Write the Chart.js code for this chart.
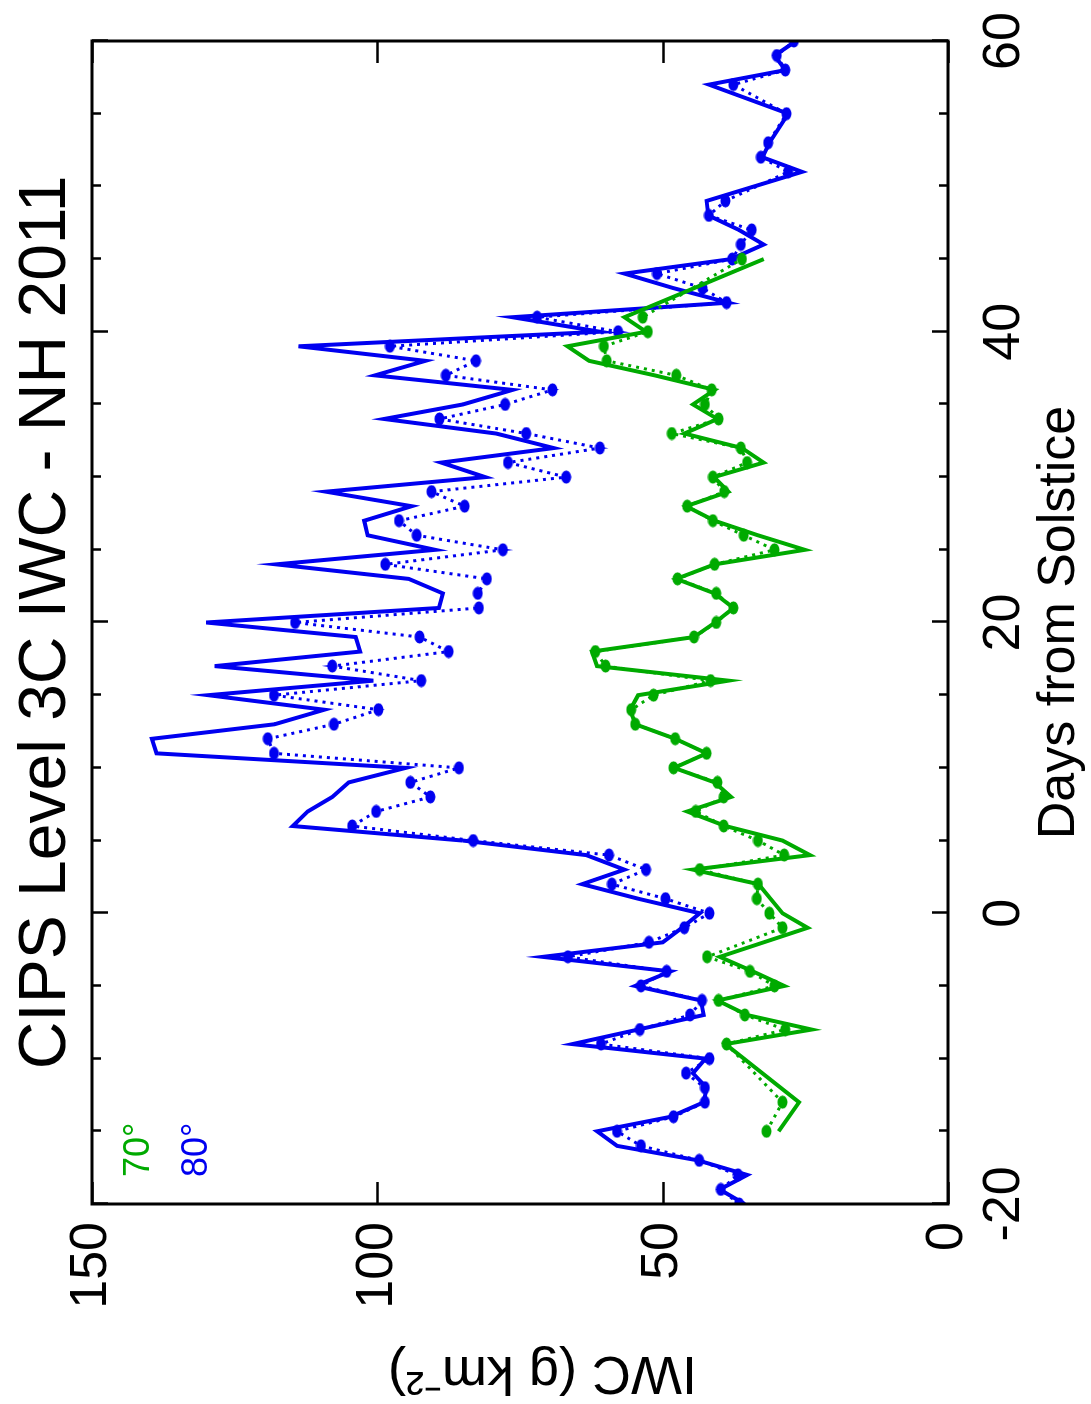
<!DOCTYPE html>
<html>
<head>
<meta charset="utf-8">
<title>CIPS Level 3C IWC - NH 2011</title>
<script src="https://cdn.jsdelivr.net/npm/chart.js@4.4.1/dist/chart.umd.min.js"></script>
<style>
  html, body { margin: 0; padding: 0; background: #fff; overflow: hidden; }
  /* the plot is drawn landscape and turned a quarter turn to the left, like the original page */
  #wrap {
    position: absolute; left: 0; top: 0;
    width: 1404px; height: 1091px;
    transform-origin: 0 0;
    transform: translate(0, 1404px) rotate(-90deg);
  }
</style>
</head>
<body>
<div id="wrap"><canvas id="myChart" width="1404" height="1091"></canvas></div>
<script>
// days from solstice, -20 .. 60
const days = [
  -20, -19, -18, -17, -16, -15, -14, -13, -12, -11,
  -10, -9, -8, -7, -6, -5, -4, -3, -2, -1,
  0, 1, 2, 3, 4, 5, 6, 7, 8, 9,
  10, 11, 12, 13, 14, 15, 16, 17, 18, 19,
  20, 21, 22, 23, 24, 25, 26, 27, 28, 29,
  30, 31, 32, 33, 34, 35, 36, 37, 38, 39,
  40, 41, 42, 43, 44, 45, 46, 47, 48, 49,
  50, 51, 52, 53, 54, 55, 56, 57, 58, 59, 60
];

// 80 deg, solid line
const iwc80Line = [
  35.6, 40.0, 35.2, 43.8, 58.0, 61.5, 48.6, 42.8, 42.3, 44.7,
  42.5, 65.8, 54.3, 42.8, 43.3, 54.8, 48.6, 71.0, 50.0, 46.6,
  43.5, 54.3, 64.1, 56.7, 63.4, 85.0, 114.8, 112.2, 107.9, 105.0,
  95.0, 138.7, 139.5, 118.0, 109.3, 129.6, 100.7, 128.5, 103.0, 103.8,
  130.0, 89.2, 88.5, 94.5, 117.7, 89.9, 101.7, 102.3, 94.0, 109.0,
  81.1, 88.8, 69.1, 79.2, 98.8, 85.0, 76.3, 100.4, 91.6, 113.8,
  61.0, 76.3, 38.5, 48.1, 56.7, 38.0, 32.3, 36.6, 42.0, 42.3,
  null, 25.6, 32.5, 31.3, null, 28.0, null, 41.9, 28.5, 30.4, 26.6
];

// 80 deg, dots on dotted line
const iwc80Dots = [
  36.6, 39.8, 36.8, 43.6, 53.8, 58.0, 48.1, 42.6, 42.6, 45.9,
  41.8, 60.8, 54.0, 45.2, 43.1, 53.8, 49.3, 66.6, 52.4, 46.2,
  41.8, 49.5, 58.9, 52.9, 59.4, 83.2, 104.4, 100.2, 90.7, 94.2,
  85.7, 118.1, 119.2, 107.6, 99.8, 118.1, 92.3, 107.9, 87.5, 92.6,
  114.4, 82.2, 82.4, 80.8, 98.6, 78.0, 93.1, 96.2, 84.7, 90.5,
  66.9, 77.1, 61.0, 73.9, 89.1, 77.6, 69.3, 88.0, 82.7, 97.8,
  57.8, 72.0, 38.8, 43.0, 51.0, 37.8, 36.3, 34.4, 41.9, 39.0,
  null, 28.0, 32.8, 31.5, null, 28.3, null, 37.6, 28.5, 30.0, 27.0
];

// 70 deg, solid line
const iwc70Line = [
  null, null, null, null, null, 29.7, null, 26.1, null, null,
  null, 39.0, 23.9, 35.2, 40.4, 28.7, 34.2, 40.0, null, 24.6,
  29.0, 31.1, 33.2, 44.7, 24.2, 29.0, 39.0, 45.7, 38.0, 40.9,
  48.0, 42.3, 47.8, 54.8, 55.7, 54.3, 38.5, 61.5, 62.4, 44.5,
  40.8, 37.6, 40.9, 47.6, 40.9, 25.1, 33.3, 40.9, 45.9, 38.5,
  41.0, 32.3, 36.1, 46.2, 40.4, 44.7, 40.9, 51.4, 62.9, 66.7,
  52.9, 56.7, null, null, null, 32.3, null, null, null, null,
  null, null, null, null, null, null, null, null, null, null, null
];

// 70 deg, dots on dotted line
const iwc70Dots = [
  null, null, null, null, null, 31.8, null, 29.0, null, null,
  null, 38.8, 28.5, 35.6, 40.2, 30.4, 34.7, 42.2, null, 29.0,
  31.3, 33.5, 33.3, 43.5, 28.7, 33.3, 39.3, 44.2, 39.3, 40.4,
  48.1, 42.3, 47.8, 54.8, 55.5, 51.6, 41.6, 60.0, 61.8, 44.5,
  40.6, 37.6, 40.6, 47.4, 40.9, 30.4, 35.8, 41.2, 45.7, 39.2,
  41.2, 35.2, 36.3, 48.4, 40.2, 42.6, 41.4, 47.6, 59.8, 60.3,
  52.6, 53.5, null, null, null, 36.1, null, null, null, null,
  null, null, null, null, null, null, null, null, null, null, null
];

const seriesNames = ['70\u00b0', '80\u00b0'];
const seriesColors = ['#00aa00', '#0000f0'];

const dayTicks = [-20, 0, 20, 40, 60];
const iwcTicks = [0, 50, 100, 150];
const dayMinorStep = 5;

const FONT = "'Liberation Sans', Arial, Helvetica, sans-serif";

const toPoints = (vals) => days.map((d, i) => ({ x: d, y: vals[i] }));

// the original dots are a little oval, so use a small drawn marker
const makeDot = (color) => {
    const c = document.createElement('canvas');
    c.width = 14;
    c.height = 11;
    const g = c.getContext('2d');
    g.fillStyle = color;
    g.beginPath();
    g.ellipse(7, 5.5, 6.5, 5, 0, 0, Math.PI * 2);
    g.fill();
    return c;
};

// frame, inward ticks on all four sides, and the little in-plot key
const frameTicks = {
    id: 'frameTicks',
    afterDatasetsDraw(chart) {
        const { ctx, chartArea: a, scales } = chart;
        const x = scales.x, y = scales.y;
        ctx.save();
        ctx.strokeStyle = '#000';
        ctx.lineCap = 'butt';

        ctx.lineWidth = 2.5;
        ctx.beginPath();
        for (let d = x.min; d <= x.max; d += dayMinorStep) {
            const px = Math.round(x.getPixelForValue(d)) + 0.5;
            const len = dayTicks.includes(d) ? 16 : 9;
            ctx.moveTo(px, a.top); ctx.lineTo(px, a.top + len);
            ctx.moveTo(px, a.bottom); ctx.lineTo(px, a.bottom - len);
        }
        iwcTicks.forEach(v => {
            const py = Math.round(y.getPixelForValue(v)) + 0.5;
            ctx.moveTo(a.left, py); ctx.lineTo(a.left + 22, py);
            ctx.moveTo(a.right, py); ctx.lineTo(a.right - 22, py);
        });
        ctx.stroke();

        ctx.lineWidth = 3;
        ctx.strokeRect(a.left, a.top, a.right - a.left, a.bottom - a.top);

        ctx.font = '36px ' + FONT;
        ctx.textAlign = 'left';
        ctx.textBaseline = 'alphabetic';
        seriesNames.forEach((name, i) => {
            ctx.fillStyle = seriesColors[i];
            ctx.fillText(name, a.left + 27, a.top + 57 + i * 58);
        });
        ctx.restore();
    }
};

const initChart = () => {
    const ctx = document.getElementById('myChart').getContext('2d');
    new Chart(ctx, {
        type: 'line',
        data: {
            datasets: [
                {
                    label: seriesNames[0] + ' line',
                    data: toPoints(iwc70Line),
                    borderColor: seriesColors[0],
                    borderWidth: 4,
                    pointRadius: 0,
                    spanGaps: true,
                    tension: 0
                },
                {
                    label: seriesNames[0] + ' dots',
                    data: toPoints(iwc70Dots),
                    borderColor: seriesColors[0],
                    backgroundColor: seriesColors[0],
                    borderWidth: 3,
                    borderDash: [3, 5],
                    pointStyle: makeDot(seriesColors[0]),
                    pointRadius: 6,
                    spanGaps: true,
                    tension: 0
                },
                {
                    label: seriesNames[1] + ' line',
                    data: toPoints(iwc80Line),
                    borderColor: seriesColors[1],
                    borderWidth: 4,
                    pointRadius: 0,
                    spanGaps: true,
                    tension: 0
                },
                {
                    label: seriesNames[1] + ' dots',
                    data: toPoints(iwc80Dots),
                    borderColor: seriesColors[1],
                    backgroundColor: seriesColors[1],
                    borderWidth: 3,
                    borderDash: [3, 5],
                    pointStyle: makeDot(seriesColors[1]),
                    pointRadius: 6,
                    spanGaps: true,
                    tension: 0
                }
            ]
        },
        options: {
            responsive: false,
            animation: false,
            devicePixelRatio: 1,
            layout: { padding: { left: 0, right: 41, top: 0, bottom: 0 } },
            plugins: {
                legend: { display: false },
                tooltip: { enabled: false },
                title: {
                    display: true,
                    text: 'CIPS Level 3C IWC - NH 2011',
                    fullSize: false,
                    color: '#000',
                    font: { family: FONT, size: 66, weight: 'normal', lineHeight: 1 },
                    padding: { top: 14, bottom: 12 }
                }
            },
            scales: {
                x: {
                    type: 'linear',
                    position: 'bottom',
                    min: -20,
                    max: 60,
                    grid: { display: false, drawTicks: false },
                    border: { display: false },
                    afterBuildTicks: (s) => { s.ticks = dayTicks.map(v => ({ value: v })); },
                    afterFit: (s) => {
                        s.height = 143;
                        // end labels may hang past the frame, as in the original
                        s.paddingLeft = 0;
                        s.paddingRight = 0;
                    },
                    ticks: {
                        color: '#000',
                        padding: 25,
                        maxRotation: 0,
                        font: { family: FONT, size: 52, lineHeight: 1.2 }
                    },
                    title: {
                        display: true,
                        text: 'Days from Solstice',
                        color: '#000',
                        font: { family: FONT, size: 52, lineHeight: 1.2 },
                        padding: { top: 0, bottom: 0 }
                    }
                },
                y: {
                    type: 'linear',
                    position: 'left',
                    min: 0,
                    max: 150,
                    grid: { display: false, drawTicks: false },
                    border: { display: false },
                    afterBuildTicks: (s) => { s.ticks = iwcTicks.map(v => ({ value: v })); },
                    afterFit: (s) => { s.width = 200; },
                    ticks: {
                        color: '#000',
                        padding: 18,
                        font: { family: FONT, size: 52, lineHeight: 1.2 }
                    },
                    title: {
                        display: true,
                        // trailing spaces nudge the label off-centre like the original
                        text: 'IWC (g km\u207b\u00b2)   ',
                        color: '#000',
                        font: { family: FONT, size: 54, lineHeight: 1.2 },
                        padding: { top: 0, bottom: 0 }
                    }
                }
            }
        },
        plugins: [frameTicks]
    });
};

document.addEventListener('DOMContentLoaded', initChart);
</script>
</body>
</html>
